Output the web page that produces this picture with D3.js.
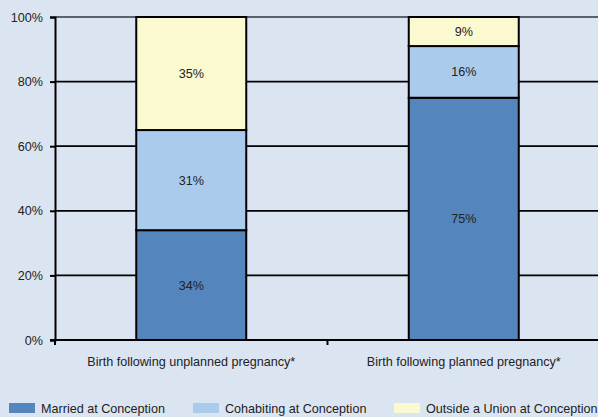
<!DOCTYPE html>
<html>
<head>
<meta charset="utf-8">
<script src="https://cdn.jsdelivr.net/npm/d3@7"></script>
<style>
  body { margin: 0; background: #dbe5f2; }
  svg { display: block; font-family: "Liberation Sans", Arial, sans-serif; }
</style>
</head>
<body>
<svg id="chart" width="598" height="417"></svg>
<script>
// Chart data
var categories = ['Birth following unplanned pregnancy*', 'Birth following planned pregnancy*'];
var seriesNames = ['Married at Conception', 'Cohabiting at Conception', 'Outside a Union at Conception'];
var married = [34, 75];
var cohabiting = [31, 16];
var outside = [35, 9];
var yTicks = [0, 20, 40, 60, 80, 100];
var seriesColors = ['#5585bd', '#aacbec', '#fbf9d0'];

var svg = d3.select('#chart');
var plotLeft = 55, plotRight = 600, plotTop = 17, plotBottom = 340;
var fs = 12.6;

var x = d3.scaleBand().domain(categories).range([plotLeft, plotRight]).paddingInner(0).paddingOuter(0);
var y = d3.scaleLinear().domain([0, 100]).range([plotBottom, plotTop]);

// Build stacked table
var rows = categories.map(function(c, i) {
  return {cat: c, s0: married[i], s1: cohabiting[i], s2: outside[i]};
});
var stack = d3.stack().keys(['s0', 's1', 's2'])(rows);

// Gridlines
svg.append('g').selectAll('line')
   .data(yTicks.filter(function(t) { return t > 0 && t < 100; }))
   .join('line')
   .attr('x1', plotLeft).attr('x2', plotRight)
   .attr('y1', function(d) { return y(d); })
   .attr('y2', function(d) { return y(d); })
   .attr('stroke', '#000').attr('stroke-width', 1.8);

// top border
svg.append('line').attr('x1', plotLeft).attr('x2', plotRight)
   .attr('y1', y(100)).attr('y2', y(100))
   .attr('stroke', '#596370').attr('stroke-width', 2);

// Bars
var barW = 110;
stack.forEach(function(layer, li) {
  svg.append('g').selectAll('rect')
     .data(layer)
     .join('rect')
     .attr('x', function(d) { return x(d.data.cat) + x.bandwidth() / 2 - barW / 2; })
     .attr('width', barW)
     .attr('y', function(d) { return y(d[1]); })
     .attr('height', function(d) { return y(d[0]) - y(d[1]); })
     .attr('fill', seriesColors[li])
     .attr('stroke', '#000').attr('stroke-width', 2);
});
stack.forEach(function(layer) {
  svg.append('g').selectAll('text')
     .data(layer)
     .join('text')
     .attr('x', function(d) { return x(d.data.cat) + x.bandwidth() / 2; })
     .attr('y', function(d) { return (y(d[0]) + y(d[1])) / 2 + 4.5; })
     .attr('text-anchor', 'middle')
     .attr('font-size', fs)
     .attr('fill', '#222')
     .text(function(d) { return (d[1] - d[0]) + '%'; });
});

// Y axis
var yAxis = d3.axisLeft(y).tickValues(yTicks).tickSize(5).tickPadding(7)
              .tickFormat(function(d) { return d + '%'; });
var yg = svg.append('g').attr('transform', 'translate(' + plotLeft + ',0)').call(yAxis);
yg.select('.domain').attr('stroke', '#000').attr('stroke-width', 2);
yg.selectAll('.tick line').attr('stroke', '#000').attr('stroke-width', 2);
yg.selectAll('.tick text').attr('font-size', fs).attr('fill', '#222')
  .attr('font-family', '"Liberation Sans", Arial, sans-serif');

// X axis
svg.append('line').attr('x1', plotLeft - 5).attr('x2', plotRight)
   .attr('y1', plotBottom).attr('y2', plotBottom)
   .attr('stroke', '#000').attr('stroke-width', 2);
svg.append('g').selectAll('line')
   .data([plotLeft, x(categories[1])])
   .join('line')
   .attr('x1', function(d) { return d; }).attr('x2', function(d) { return d; })
   .attr('y1', plotBottom).attr('y2', plotBottom + 5)
   .attr('stroke', '#000').attr('stroke-width', 2);
svg.append('g').selectAll('text')
   .data(categories)
   .join('text')
   .attr('x', function(d) { return x(d) + x.bandwidth() / 2; })
   .attr('y', plotBottom + 26)
   .attr('text-anchor', 'middle')
   .attr('font-size', fs).attr('fill', '#222')
   .text(function(d) { return d; });

// Legend
var legendX = [9, 193, 394];
var lg = svg.append('g').selectAll('g')
   .data(seriesNames)
   .join('g')
   .attr('transform', function(d, i) { return 'translate(' + legendX[i] + ',403)'; });
lg.append('rect').attr('width', 26).attr('height', 10)
  .attr('fill', function(d, i) { return seriesColors[i]; });
lg.append('text').attr('x', 32).attr('y', 10)
  .attr('font-size', fs).attr('fill', '#222')
  .text(function(d) { return d; });
</script>
</body>
</html>
